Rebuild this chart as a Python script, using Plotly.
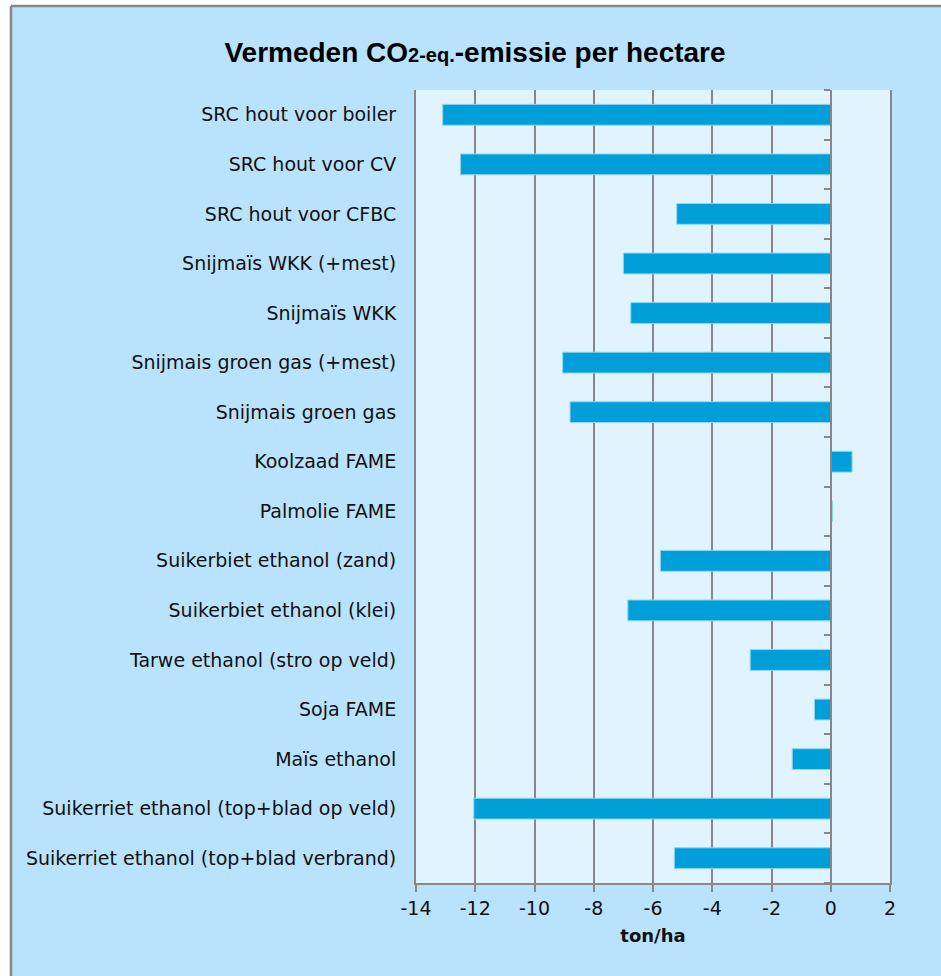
import plotly.graph_objects as go

categories = [
    "SRC hout voor boiler",
    "SRC hout voor CV",
    "SRC hout voor CFBC",
    "Snijmaïs WKK (+mest)",
    "Snijmaïs WKK",
    "Snijmais groen gas (+mest)",
    "Snijmais groen gas",
    "Koolzaad FAME",
    "Palmolie FAME",
    "Suikerbiet ethanol (zand)",
    "Suikerbiet ethanol (klei)",
    "Tarwe ethanol (stro op veld)",
    "Soja FAME",
    "Maïs ethanol",
    "Suikerriet ethanol (top+blad op veld)",
    "Suikerriet ethanol (top+blad verbrand)",
]
values = [-13.1, -12.5, -5.2, -7.0, -6.75, -9.05, -8.8, 0.72, 0.06,
          -5.75, -6.85, -2.72, -0.55, -1.3, -12.05, -5.28]
x_ticks = [-14, -12, -10, -8, -6, -4, -2, 0, 2]

W, H = 941, 976
ML, MR, MT, MB = 416, 51, 90, 93
PW, PH = W - ML - MR, H - MT - MB

GRID = "#878787"
OUTER = "#B9E3FD"
INNER = "#E1F3FE"
BAR = "#009FDA"
LABEL_FONT = "DejaVu Sans, sans-serif"

n = len(categories)
xmin, xmax = x_ticks[0], x_ticks[-1]

fig = go.Figure()
fig.add_trace(go.Bar(
    y=categories, x=values, orientation="h",
    marker=dict(color=BAR, line=dict(color="#8FD6F2", width=1)),
    width=0.42, showlegend=False,
))
# invisible helper trace to show the category tick axis at x=0
fig.add_trace(go.Scatter(x=[0], y=[0], yaxis="y2", mode="markers",
                         marker=dict(opacity=0), hoverinfo="skip", showlegend=False))

def px_x(px):
    return (px - ML) / PW

def px_y(py):
    return (H - MB - py) / PH

fig.update_layout(
    width=W, height=H,
    margin=dict(l=ML, r=MR, t=MT, b=MB),
    paper_bgcolor=OUTER,
    plot_bgcolor=INNER,
    title=dict(
        text="Vermeden CO<span style='font-size:20px'>2-eq.</span>-emissie per hectare",
        font=dict(family="Liberation Sans, Arial, sans-serif", size=28, color="#000000", weight="bold"),
        x=475 / W, xref="container", xanchor="center",
        y=1 - 52 / H, yref="container", yanchor="middle",
    ),
    xaxis=dict(
        range=[xmin, xmax], tickvals=x_ticks, ticktext=[str(v) for v in x_ticks],
        showgrid=True, gridcolor=GRID, gridwidth=2,
        showline=True, linecolor=GRID, linewidth=2,
        ticks="outside", ticklen=7, tickwidth=2, tickcolor=GRID,
        zeroline=False,
        tickfont=dict(family=LABEL_FONT, size=19, color="#111111"),
        title=dict(text="<b>ton/ha</b>", font=dict(family=LABEL_FONT, size=18, color="#111111"), standoff=12),
    ),
    yaxis=dict(
        categoryorder="array", categoryarray=categories, autorange="reversed",
        showgrid=False, ticks="", showline=True, mirror=True,
        linecolor=GRID, linewidth=2,
        tickfont=dict(family=LABEL_FONT, size=19, color="#111111"),
        ticklabelstandoff=14,
    ),
    yaxis2=dict(
        overlaying="y", anchor="free", side="left",
        position=(0 - xmin) / (xmax - xmin),
        range=[n - 0.5, -0.5],
        tickvals=[i - 0.5 for i in range(n + 1)],
        showticklabels=False, ticks="outside", ticklen=6, tickwidth=2, tickcolor=GRID,
        showline=True, linecolor=GRID, linewidth=2, showgrid=False, zeroline=False,
    ),
    shapes=[
        dict(type="rect", xref="paper", yref="paper", x0=px_x(-5), x1=px_x(11), y0=px_y(H + 5), y1=px_y(-5),
             fillcolor="white", line=dict(width=0), layer="above"),
        dict(type="rect", xref="paper", yref="paper", x0=px_x(-5), x1=px_x(W + 5), y0=px_y(6), y1=px_y(-5),
             fillcolor="white", line=dict(width=0), layer="above"),
        dict(type="line", xref="paper", yref="paper", x0=px_x(11), x1=px_x(11), y0=px_y(H + 5), y1=px_y(6),
             line=dict(color=GRID, width=2.5), layer="above"),
        dict(type="line", xref="paper", yref="paper", x0=px_x(11), x1=px_x(W + 5), y0=px_y(6), y1=px_y(6),
             line=dict(color=GRID, width=2.5), layer="above"),
    ],
)

fig.write_html(
    "out.html",
    config={"displayModeBar": False},
    post_script="document.body.style.margin='0';document.body.style.overflow='hidden';",
)
